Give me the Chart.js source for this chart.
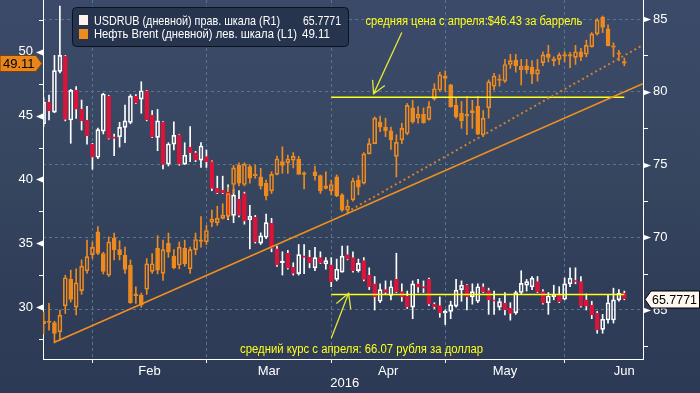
<!DOCTYPE html>
<html lang="ru">
<head>
<meta charset="UTF-8">
<title>USDRUB и нефть Brent, 2016</title>
<script src="https://cdn.jsdelivr.net/npm/chart.js"></script>
<style>
  html, body { margin: 0; padding: 0; background: #2e3c57; }
  #wrap {
    position: relative; width: 700px; height: 393px;
    background: linear-gradient(to bottom, #3b4a69 0%, #37465f 45%, #303e59 70%, #2c3a55 100%);
  }
  canvas { display: block; }
</style>
</head>
<body>
<div id="wrap"><canvas id="chart" width="700" height="393"></canvas></div>
<script>
// trading days, Jan 18 .. Jun 15 2016
const days = [
  '18.01','19.01','20.01','21.01','22.01','25.01','26.01','27.01','28.01','29.01',
  '01.02','02.02','03.02','04.02','05.02','08.02','09.02','10.02','11.02','12.02',
  '15.02','16.02','17.02','18.02','19.02','22.02','23.02','24.02','25.02','26.02','29.02',
  '01.03','02.03','03.03','04.03','07.03','08.03','09.03','10.03','11.03','14.03',
  '15.03','16.03','17.03','18.03','21.03','22.03','23.03','24.03','25.03','28.03',
  '29.03','30.03','31.03',
  '01.04','04.04','05.04','06.04','07.04','08.04','11.04','12.04','13.04','14.04',
  '15.04','18.04','19.04','20.04','21.04','22.04','25.04','26.04','27.04','28.04','29.04',
  '02.05','03.05','04.05','05.05','06.05','09.05','10.05','11.05','12.05','13.05',
  '16.05','17.05','18.05','19.05','20.05','23.05','24.05','25.05','26.05','27.05',
  '30.05','31.05',
  '01.06','02.06','03.06','06.06','07.06','08.06','09.06','10.06','13.06','14.06','15.06'
];

// Brent (left scale)
const brentO = [28.9,28.9,28.8,28.07,30.1,32.2,30.0,31.3,32.85,34.1,
  35.9,34.2,32.5,35.4,34.5,34.05,33.3,31.0,30.95,31.4,
  32.8,34.6,32.65,35.0,34.0,33.3,34.6,33.0,34.5,35.2,
  35.1,36.65,36.6,36.95,37.1,39.6,41.1,39.6,41.0,40.4,
  40.2,39.7,39.1,40.4,41.4,41.3,41.5,41.6,40.45,null,
  40.6,40.3,39.5,39.1,40.2,38.8,37.6,38.4,39.95,39.7,
  42.0,42.8,44.5,44.1,43.8,41.8,43.1,43.6,45.6,44.8,
  45.1,44.7,46.3,47.0,48.1,47.4,45.8,45.2,45.1,45.2,
  45.75,43.5,45.6,47.3,47.85,47.7,49.0,49.35,48.6,48.9,
  48.8,48.25,49.15,49.8,49.45,49.4,49.75,49.75,49.56,50.0,
  49.8,50.4,51.4,52.7,51.8,50.45,49.9,49.2];
const brentH = [29.6,30.3,28.9,29.77,32.5,32.9,33.0,33.7,35.25,35.1,
  36.3,34.3,35.5,35.8,35.2,34.7,33.7,31.6,31.1,33.8,
  34.2,35.6,35.25,35.8,34.5,35.1,35.25,34.7,35.8,37.1,
  36.4,37.6,37.9,38.1,39.4,41.1,41.3,41.3,41.13,41.13,
  40.87,39.95,40.6,41.83,42.56,41.9,42.1,41.8,40.6,null,
  41.05,40.35,40.6,39.95,40.35,38.9,38.4,40.1,40.3,42.1,
  43.2,44.9,44.96,44.8,44.1,43.5,44.4,45.95,46.2,45.7,
  45.6,46.1,47.5,48.4,48.5,47.45,46.4,46.1,46.5,46.2,
  46.5,45.4,47.8,48.3,48.2,49.4,49.8,49.8,49.4,49.4,
  49.3,49.4,50.0,50.5,49.6,49.9,50.0,49.95,50.5,50.26,
  50.9,51.5,52.6,52.8,52.1,50.7,50.1,49.5];
const brentL = [27.9,28.2,27.2,27.4,29.5,30.4,29.4,31.0,32.65,33.8,
  34.1,32.6,32.4,33.7,33.7,32.65,30.3,30.3,30.0,31.0,
  32.65,32.6,32.1,33.9,33.0,33.0,33.2,32.65,34.1,34.7,
  34.9,36.3,36.4,36.9,36.95,38.9,39.5,39.5,39.7,40.09,
  39.25,38.4,38.9,40.35,40.48,40.48,40.9,40.4,39.25,null,
  39.95,38.9,39.25,38.78,38.65,37.5,37.3,38.3,38.8,39.64,
  41.99,42.8,43.74,43.35,42.35,40.2,42.8,43.5,44.4,44.4,
  44.4,44.65,46.2,46.9,46.9,45.65,44.8,44.0,43.5,44.0,
  43.5,43.35,44.8,47.0,47.3,47.6,48.7,48.4,47.4,48.3,
  47.5,47.7,48.9,49.2,48.9,49.0,49.2,48.75,49.0,49.3,
  49.6,50.35,51.3,51.5,50.45,49.6,49.3,48.9];
const brentC = [28.7,28.8,27.95,29.38,32.3,30.6,31.9,33.2,33.95,34.7,
  34.2,32.8,35.1,34.5,34.1,32.96,30.35,30.9,30.16,33.4,
  33.4,32.9,34.5,34.3,33.1,34.7,33.4,34.5,35.3,35.15,
  36.0,36.9,36.95,37.2,38.9,40.9,39.7,41.2,40.1,40.3,
  39.5,38.7,40.4,41.6,41.1,41.6,41.8,40.4,40.4,null,
  40.3,39.1,39.3,39.6,38.7,37.6,37.9,39.9,39.4,42.0,
  42.8,44.8,44.1,43.8,43.1,42.9,44.0,45.8,44.5,45.1,
  44.45,45.7,47.1,48.2,47.9,45.7,44.9,44.6,44.95,45.4,
  43.55,44.8,47.65,48.1,47.75,49.0,49.3,48.9,48.85,48.6,
  48.25,48.6,49.75,49.55,49.3,49.75,49.65,49.65,50.0,49.6,
  50.5,51.4,52.5,51.9,50.45,50.35,49.8,49.11];

// USDRUB (right scale)
const usdO = [77.8,79.3,78.6,81.4,82.45,78.06,80.1,78.8,78.06,76.4,
  75.5,77.3,79.7,76.9,76.9,77.55,77.9,79.7,79.5,80.07,
  78.4,76.87,77.9,75.03,76.4,77.0,75.03,76.2,75.8,75.3,
  75.55,75.2,73.36,73.25,73.1,71.5,72.6,73.0,71.2,71.37,
  69.6,70.0,70.96,69.2,68.26,68.9,67.94,67.5,68.71,68.62,
  67.9,68.6,68.16,68.1,67.1,67.6,68.8,68.6,67.7,68.4,
  67.4,66.8,65.6,66.4,66.0,67.1,66.26,65.96,65.2,66.8,
  66.6,67.1,65.41,65.3,64.8,64.9,65.27,66.4,66.7,65.9,
  65.6,66.6,66.33,65.65,65.2,65.46,65.11,64.8,66.2,66.7,
  66.6,66.95,66.26,65.5,65.91,66.1,65.74,66.8,67.0,66.95,
  65.69,65.34,64.77,63.67,64.31,64.31,65.69,66.15];
const usdH = [79.6,79.78,82.5,85.9,82.5,80.17,80.35,79.43,79.0,76.46,
  77.5,79.9,79.75,77.1,77.9,79.09,79.8,79.8,80.69,80.1,
  78.7,78.79,77.95,76.5,77.94,77.05,76.5,77.6,75.9,76.5,
  76.0,75.25,74.2,74.2,73.6,73.3,73.2,73.1,72.2,71.5,
  70.3,71.6,71.3,69.4,69.0,69.1,68.25,69.5,69.5,69.1,
  69.3,69.0,68.6,68.6,68.5,69.4,69.4,69.0,68.5,68.6,
  67.9,67.3,66.8,67.0,67.0,68.9,66.8,66.3,67.0,67.1,
  67.0,67.2,65.5,65.9,65.0,65.6,67.1,67.0,66.75,66.8,
  66.8,66.8,66.5,66.3,65.8,66.2,65.5,66.3,67.7,67.1,
  67.3,67.3,66.4,66.2,66.7,66.6,67.2,67.9,67.9,67.3,
  66.1,65.6,64.9,64.7,66.0,66.5,66.4,66.3];
const usdL = [77.6,78.06,78.56,81.3,78.0,76.46,78.17,77.37,76.4,74.67,
  75.4,77.1,76.75,75.6,76.2,76.5,77.8,79.2,78.52,78.0,
  76.85,75.95,74.7,74.9,76.0,74.95,75.0,75.2,75.2,74.8,
  74.8,73.2,73.0,73.0,71.2,71.0,71.4,70.9,69.2,69.6,
  69.5,69.9,69.0,68.0,67.4,67.8,67.4,67.4,67.5,67.9,
  67.7,68.2,67.8,66.6,67.0,67.6,68.45,67.6,67.6,67.0,
  66.4,65.0,65.5,66.1,65.7,66.2,65.6,65.1,64.4,66.2,
  66.2,65.3,65.1,64.5,64.0,64.4,65.2,65.6,65.0,65.4,
  65.5,66.2,64.7,64.7,65.0,64.66,64.3,64.7,66.1,66.3,
  66.4,66.2,65.4,64.7,65.7,65.5,65.7,66.6,66.8,65.2,
  65.0,64.4,63.4,63.4,64.1,64.1,65.6,65.7];
const usdC = [79.3,78.7,81.45,82.5,78.1,80.1,78.8,78.0,76.96,75.5,
  77.4,79.85,76.8,76.8,77.55,78.0,79.7,79.25,80.07,78.06,
  76.9,78.0,75.0,76.41,77.0,75.03,75.65,75.8,75.3,76.27,
  75.2,73.36,73.06,73.06,71.5,72.9,71.5,71.1,71.45,69.7,
  70.1,71.0,69.24,68.1,68.3,67.87,67.52,68.8,68.62,68.21,
  68.6,68.25,68.39,66.95,67.8,68.7,68.5,67.7,68.2,67.1,
  66.6,65.9,66.4,66.2,66.6,66.26,65.9,65.23,66.8,66.56,
  66.5,65.4,65.23,64.8,64.9,65.35,66.37,66.7,65.9,66.26,
  66.6,66.26,65.69,65.6,65.57,65.0,64.77,66.2,66.83,66.95,
  67.18,66.26,65.46,65.96,66.03,65.57,66.79,67.18,66.95,65.27,
  65.27,64.66,63.63,64.36,65.5,65.69,66.15,65.7771];

const lastUsd = 65.7771, lastBrent = 49.11;
const avgBrent = 46.43, avgUsd = 66.07;
// annotation lines [x index, value]
const brentTrend = [[2, 27.25], [110.4, 47.5]];
const brentTrend2 = [[55.9, 37.45], [110.4, 50.52]];
const avgSpan = ['31.03', '15.06'];
const brentArrow = [[66.0, 51.5], [60.8, 46.7]];
const usdArrow = [[53.0, 63.05], [56.2, 66.15]];
const brentNote = [59.3, 52.33, 'средняя цена с апреля:$46.43 за баррель'];
const usdNote = [36.2, 62.25, 'средний курс с апреля: 66.07 рубля за доллар'];

const monthNames = ['Feb', 'Mar', 'Apr', 'May', 'Jun'];
const monthLast = ['29.01', '29.02', '31.03', '29.04', '31.05'];
const juneDays = 22;

const ORANGE = '#ee8a1e', RED = '#dc1439', WHITE = '#ffffff', YELLOW = '#ffff1a';
const GRID = '#557591';
const FONT = '"Liberation Sans", Arial, sans-serif';

const edges = monthLast.map(d => days.indexOf(d));
edges.push(edges[edges.length - 1] + juneDays);
const mids = monthNames.map((m, k) => (edges[k] + edges[k + 1]) / 2);
const edgeSet = new Set(edges.slice(0, 5));
const xTicks = edges.slice(0, 5).concat(mids).sort((a, b) => a - b);

function candles(open, high, low, close, upColor, downColor, axis) {
  const body = [], lo = [], hi = [];
  open.forEach((o, i) => {
    if (o === null) return;
    const c = close[i];
    body.push({ x: i, y: [o, c], up: c >= o });
    lo.push({ x: i, y: [low[i], Math.min(o, c)] });
    hi.push({ x: i, y: [Math.max(o, c), high[i]] });
  });
  const base = { type: 'bar', yAxisID: axis, grouped: false, borderSkipped: false };
  return [
    Object.assign({}, base, { data: body, barThickness: 4, borderWidth: 1, minBarLength: 1.5, order: 2,
      borderColor: ctx => (ctx.raw && ctx.raw.up) ? upColor : downColor,
      backgroundColor: ctx => (ctx.raw && ctx.raw.up) ? 'rgba(0,0,0,0)' : downColor }),
    Object.assign({}, base, { data: lo, barThickness: 1, borderWidth: 0, backgroundColor: upColor, order: 3 }),
    Object.assign({}, base, { data: hi, barThickness: 1, borderWidth: 0, backgroundColor: upColor, order: 3 })
  ];
}

function line(points, axis, color, width, dash) {
  return { type: 'line', yAxisID: axis, data: points.map(p => ({ x: p[0], y: p[1] })),
    borderColor: color, borderWidth: width, borderDash: dash || [], pointRadius: 0, order: 0 };
}

const a0 = days.indexOf(avgSpan[0]), a1 = days.indexOf(avgSpan[1]);

function fitText(ctx, text, x, y, w) {
  const m = ctx.measureText(text).width;
  ctx.save();
  ctx.translate(x, y);
  ctx.scale(w / m, 1);
  ctx.fillText(text, 0, 0);
  ctx.restore();
}

function arrow(ctx, x1, y1, x2, y2, len) {
  const t = Math.atan2(y1 - y2, x1 - x2), s = 0.5;
  ctx.beginPath();
  ctx.moveTo(x1, y1); ctx.lineTo(x2, y2);
  ctx.moveTo(x2 + len * Math.cos(t - s), y2 + len * Math.sin(t - s));
  ctx.lineTo(x2, y2);
  ctx.lineTo(x2 + len * Math.cos(t + s), y2 + len * Math.sin(t + s));
  ctx.stroke();
}

const extras = {
  id: 'extras',
  afterDraw(chart) {
    const ctx = chart.ctx, a = chart.chartArea;
    const x = chart.scales.x, yL = chart.scales.yL, yR = chart.scales.yR;
    ctx.save();
    // axis markers
    ctx.fillStyle = WHITE; ctx.strokeStyle = WHITE; ctx.lineWidth = 1;
    yL.ticks.forEach(t => {
      const py = Math.round(yL.getPixelForValue(t.value)) + 0.5;
      ctx.beginPath();
      if (t.value % 5 === 0) {
        ctx.moveTo(a.left, py - 3); ctx.lineTo(a.left, py + 3); ctx.lineTo(a.left - 7, py); ctx.fill();
      } else {
        ctx.moveTo(a.left - 4, py); ctx.lineTo(a.left, py); ctx.stroke();
      }
    });
    yR.ticks.forEach(t => {
      const py = Math.round(yR.getPixelForValue(t.value)) + 0.5;
      ctx.beginPath();
      if (t.value % 5 === 0) {
        ctx.moveTo(a.right, py - 3); ctx.lineTo(a.right, py + 3); ctx.lineTo(a.right + 8, py); ctx.fill();
      } else {
        ctx.moveTo(a.right, py); ctx.lineTo(a.right + 5, py); ctx.stroke();
      }
    });
    // year
    ctx.font = '13px ' + FONT;
    ctx.textBaseline = 'middle'; ctx.textAlign = 'left';
    ctx.fillText('2016', x.getPixelForValue(edges[2]) - 1, 383);

    // notes and arrows
    ctx.strokeStyle = '#e4e63a'; ctx.lineWidth = 1.3;
    arrow(ctx, x.getPixelForValue(brentArrow[0][0]), yL.getPixelForValue(brentArrow[0][1]),
      x.getPixelForValue(brentArrow[1][0]), yL.getPixelForValue(brentArrow[1][1]), 14);
    arrow(ctx, x.getPixelForValue(usdArrow[0][0]), yR.getPixelForValue(usdArrow[0][1]),
      x.getPixelForValue(usdArrow[1][0]), yR.getPixelForValue(usdArrow[1][1]), 16);
    ctx.fillStyle = YELLOW;
    ctx.font = '12px ' + FONT;
    fitText(ctx, brentNote[2], x.getPixelForValue(brentNote[0]), yL.getPixelForValue(brentNote[1]), 217);
    fitText(ctx, usdNote[2], x.getPixelForValue(usdNote[0]), yR.getPixelForValue(usdNote[1]), 243);

    // legend box
    ctx.beginPath();
    ctx.roundRect(72.5, 7.5, 276, 39, 4);
    ctx.fillStyle = '#27344d'; ctx.fill();
    ctx.strokeStyle = '#0c121d'; ctx.lineWidth = 1; ctx.stroke();
    ctx.fillStyle = '#fff3ee'; ctx.fillRect(79, 15, 9, 10);
    ctx.fillStyle = ORANGE; ctx.fillRect(79, 29, 9, 10);
    ctx.fillStyle = WHITE; ctx.font = '13px ' + FONT;
    fitText(ctx, 'USDRUB (дневной) прав. шкала (R1)', 94, 21, 186);
    fitText(ctx, 'Нефть Brent (дневной) лев. шкала (L1)', 94, 34, 203);
    fitText(ctx, lastUsd.toFixed(4), 303, 21, 38);
    fitText(ctx, lastBrent.toFixed(2), 302, 34, 28);

    // last value tags
    let py = Math.round(yL.getPixelForValue(lastBrent)) + 0.5;
    ctx.beginPath();
    ctx.moveTo(0, py - 8); ctx.lineTo(36, py - 8); ctx.lineTo(42, py); ctx.lineTo(36, py + 8); ctx.lineTo(0, py + 8);
    ctx.closePath();
    ctx.fillStyle = '#e8861d'; ctx.fill(); ctx.strokeStyle = '#7a4208'; ctx.stroke();
    ctx.fillStyle = '#000'; ctx.font = '13px ' + FONT;
    ctx.fillText(lastBrent.toFixed(2), 3, py + 0.5);

    py = Math.round(yR.getPixelForValue(lastUsd)) + 0.5;
    ctx.beginPath();
    ctx.moveTo(645, py); ctx.lineTo(651, py - 8.5); ctx.lineTo(699.5, py - 8.5); ctx.lineTo(699.5, py + 8.5); ctx.lineTo(651, py + 8.5);
    ctx.closePath();
    ctx.fillStyle = '#fff7f0'; ctx.fill(); ctx.strokeStyle = '#000'; ctx.stroke();
    ctx.fillStyle = '#000';
    fitText(ctx, lastUsd.toFixed(4), 652, py + 0.5, 45);
    ctx.restore();
  }
};

const datasets = [
  line(brentTrend, 'yL', '#f0901e', 1.5),
  line(brentTrend2, 'yL', '#d08030', 2, [2, 3]),
  line([[a0, avgBrent], [a1, avgBrent]], 'yL', YELLOW, 1.5),
  line([[a0, avgUsd], [a1, avgUsd]], 'yR', YELLOW, 1.5)
].concat(candles(brentO, brentH, brentL, brentC, ORANGE, ORANGE, 'yL'))
 .concat(candles(usdO, usdH, usdL, usdC, WHITE, RED, 'yR'));

Chart.defaults.font.family = FONT;
Chart.defaults.font.size = 13;
Chart.defaults.color = WHITE;

new Chart(document.getElementById('chart'), {
  type: 'bar',
  data: { datasets: datasets },
  options: {
    responsive: false,
    animation: false,
    layout: { padding: 0 },
    plugins: { legend: { display: false }, tooltip: { enabled: false } },
    scales: {
      x: {
        type: 'linear', position: 'bottom', min: -0.11, max: 110.44, offset: false, bounds: 'data',
        afterBuildTicks: s => { s.ticks = xTicks.map(v => ({ value: v })); },
        afterFit: s => { s.height = 34; s.paddingLeft = 0; s.paddingRight = 0; },
        grid: {
          offset: false, drawTicks: true, tickLength: 4,
          color: c => (c.tick && edgeSet.has(c.tick.value)) ? GRID : 'rgba(0,0,0,0)',
          tickColor: c => (c.tick && edgeSet.has(c.tick.value)) ? WHITE : 'rgba(0,0,0,0)'
        },
        border: { display: true, color: WHITE, width: 1, dash: [3, 3] },
        ticks: {
          autoSkip: false, maxRotation: 0, padding: 1, color: WHITE,
          callback: v => { const k = mids.indexOf(v); return k >= 0 ? monthNames[k] : ''; }
        }
      },
      yL: {
        type: 'linear', position: 'left', min: 25.94, max: 54.05, bounds: 'data',
        afterBuildTicks: s => { s.ticks = [27.5, 30, 32.5, 35, 37.5, 40, 42.5, 45, 47.5, 50, 52.5].map(v => ({ value: v })); },
        afterFit: s => { s.width = 43; s.paddingTop = 0; s.paddingBottom = 0; },
        grid: { drawOnChartArea: false, drawTicks: false },
        border: { display: true, color: WHITE, width: 1 },
        ticks: { autoSkip: false, padding: 10, color: WHITE, callback: v => v % 5 === 0 ? String(v) : '' }
      },
      yR: {
        type: 'linear', position: 'right', min: 61.63, max: 86.31, bounds: 'data',
        afterBuildTicks: s => { s.ticks = [62.5, 65, 67.5, 70, 72.5, 75, 77.5, 80, 82.5, 85].map(v => ({ value: v })); },
        afterFit: s => { s.width = 57; s.paddingTop = 0; s.paddingBottom = 0; },
        grid: {
          drawTicks: false,
          color: c => (c.tick && c.tick.value % 5 === 0) ? GRID : 'rgba(0,0,0,0)'
        },
        border: { display: true, color: WHITE, width: 1, dash: [3, 3] },
        ticks: { autoSkip: false, padding: 10, color: WHITE, callback: v => v % 5 === 0 ? String(v) : '' }
      }
    }
  },
  plugins: [extras]
});
</script>
</body>
</html>
